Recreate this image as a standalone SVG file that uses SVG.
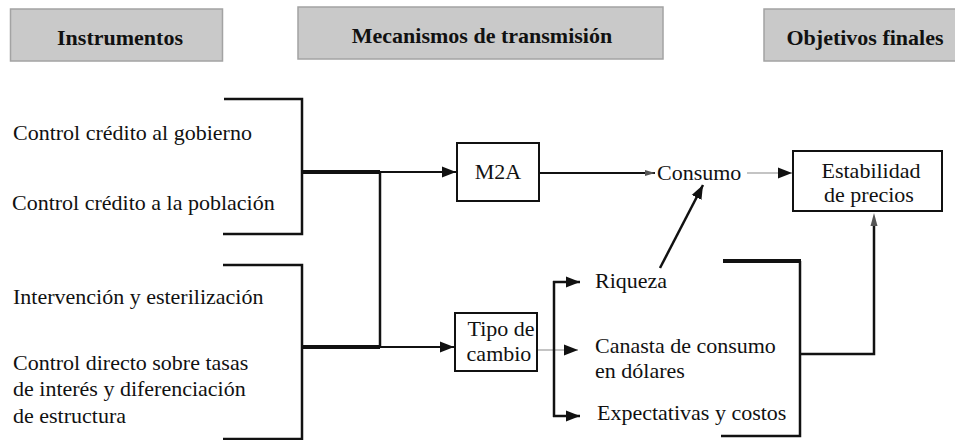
<svg xmlns="http://www.w3.org/2000/svg" width="955" height="440" viewBox="0 0 955 440">
  <style>
    text { font-family: "Liberation Serif", "Times New Roman", serif; font-size: 22px; fill: #111; }
    .hdr rect { fill: #c9c9c9; stroke: #a3a3a3; stroke-width: 1.5; }
    .hdr text { font-weight: bold; text-anchor: middle; }
    .box { fill: #fff; stroke: #111; stroke-width: 2; }
    .ln { fill: none; stroke: #111; stroke-width: 2.5; }
    .thick { fill: none; stroke: #111; stroke-width: 4; }
    .thin { fill: none; stroke: #111; stroke-width: 2; }
    .gray { fill: none; stroke: #8a8a8a; stroke-width: 1.2; }
  </style>
  <defs>
    <marker id="arr" markerUnits="userSpaceOnUse" markerWidth="14" markerHeight="12" refX="14" refY="6" orient="auto">
      <path d="M0,0.5 L14,6 L0,11.5 z" fill="#111"/>
    </marker>
    <marker id="arrs" markerUnits="userSpaceOnUse" markerWidth="10" markerHeight="8" refX="10" refY="4" orient="auto">
      <path d="M0,1 L10,4 L0,7 z" fill="#555"/>
    </marker>
  </defs>
  <rect width="955" height="440" fill="#fff"/>

  <g id="hdr-instrumentos" class="hdr">
    <rect x="10.5" y="9" width="212" height="52"/>
    <text x="120" y="45">Instrumentos</text>
  </g>
  <g id="hdr-mecanismos" class="hdr">
    <rect x="298" y="7" width="365" height="52"/>
    <text x="482" y="43">Mecanismos de transmisión</text>
  </g>
  <g id="hdr-objetivos" class="hdr">
    <rect x="764" y="9" width="195" height="52"/>
    <text x="865" y="45">Objetivos finales</text>
  </g>

  <g id="connectors">
    <polyline class="ln" points="224,99 302,99 302,234 223,234"/>
    <polyline class="ln" points="223,265 302,265 302,439 223,439"/>
    <line class="thick" x1="302" y1="172" x2="380" y2="172"/>
    <line class="thick" x1="302" y1="347" x2="380" y2="347"/>
    <line class="ln" x1="380" y1="171" x2="380" y2="348"/>
    <line class="thin" x1="380" y1="172" x2="456" y2="172" marker-end="url(#arr)"/>
    <line class="thin" x1="380" y1="347" x2="454" y2="347" marker-end="url(#arr)"/>
    <line class="thin" x1="539" y1="173" x2="655" y2="173" marker-end="url(#arrs)"/>
    <line class="gray" x1="747" y1="173" x2="792" y2="173" marker-end="url(#arr)"/>
    <line class="ln" x1="660" y1="268" x2="703" y2="185" marker-end="url(#arr)"/>
    <line class="gray" x1="537" y1="350" x2="578" y2="350" marker-end="url(#arr)"/>
    <line class="ln" x1="554" y1="281" x2="554" y2="417"/>
    <line class="ln" x1="553" y1="282" x2="580" y2="282" marker-end="url(#arr)"/>
    <line class="ln" x1="553" y1="416" x2="580" y2="416" marker-end="url(#arr)"/>
    <line class="thick" x1="723" y1="261" x2="801" y2="261"/>
    <polyline class="ln" points="800,261 800,436 721,436"/>
    <polyline class="ln" points="800,354 874,354 874,222"/>
    <path d="M870.5,226 L874,213 L877.5,226 z" fill="#555"/>
  </g>

  <g id="instr-1"><text x="13" y="140">Control crédito al gobierno</text></g>
  <g id="instr-2"><text x="12" y="210">Control crédito a la población</text></g>
  <g id="instr-3"><text x="13" y="304">Intervención y esterilización</text></g>
  <g id="instr-4">
    <text x="13" y="370">Control directo sobre tasas</text>
    <text x="13" y="396">de interés y diferenciación</text>
    <text x="13" y="423">de estructura</text>
  </g>

  <g id="m2a">
    <rect class="box" x="457" y="143" width="82" height="58"/>
    <text x="498" y="179" text-anchor="middle">M2A</text>
  </g>
  <g id="tipo-cambio">
    <rect class="box" x="455" y="313" width="82" height="58"/>
    <text x="501" y="336" text-anchor="middle">Tipo de</text>
    <text x="499" y="361" text-anchor="middle">cambio</text>
  </g>
  <g id="consumo"><text x="657" y="180">Consumo</text></g>
  <g id="estabilidad">
    <rect class="box" x="793" y="151" width="149" height="60"/>
    <text x="871" y="178" text-anchor="middle">Estabilidad</text>
    <text x="869" y="202" text-anchor="middle">de precios</text>
  </g>
  <g id="riqueza"><text x="595" y="288">Riqueza</text></g>
  <g id="canasta">
    <text x="595" y="353">Canasta de consumo</text>
    <text x="595" y="378">en dólares</text>
  </g>
  <g id="expectativas"><text x="597" y="420">Expectativas y costos</text></g>
</svg>
